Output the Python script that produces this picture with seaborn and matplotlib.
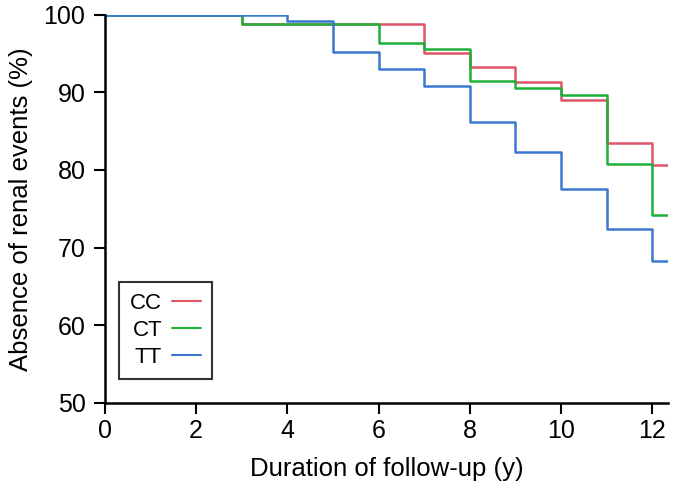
import pandas as pd
import numpy as np
import matplotlib
matplotlib.use("Agg")
import matplotlib.pyplot as plt
import seaborn as sns

# step times (years) and survival (%) per genotype
times = [0, 3, 4, 5, 6, 7, 8, 9, 10, 11, 12, 12.35]
cc_vals = [100, 98.8, 98.8, 98.8, 98.8, 95.1, 93.3, 91.3, 89.0, 83.5, 80.6, 80.6]
ct_vals = [100, 98.8, 98.8, 98.8, 96.4, 95.6, 91.5, 90.6, 89.6, 80.8, 74.2, 74.2]
tt_vals = [100, 100, 99.2, 95.2, 93.0, 90.8, 86.2, 82.3, 77.6, 72.4, 68.3, 68.3]
groups = ["CC", "CT", "TT"]
colors = ["#e05468", "#1fb03a", "#3a78d0"]

data = pd.DataFrame({
    "time": times * 3,
    "surv": cc_vals + ct_vals + tt_vals,
    "group": [g for g in groups for _ in times],
})

sns.set_style("ticks")
plt.rcParams["font.family"] = ["Liberation Sans", "DejaVu Sans"]
plt.rcParams["text.color"] = "black"
plt.rcParams["axes.labelcolor"] = "black"
plt.rcParams["xtick.color"] = "black"
plt.rcParams["ytick.color"] = "black"
plt.rcParams["axes.edgecolor"] = "black"

fig = plt.figure(figsize=(6.77, 4.93), dpi=100)
ax = fig.add_axes([0.155, 0.183, 0.832, 0.787])

sns.lineplot(data=data, x="time", y="surv", hue="group", palette=colors,
             drawstyle="steps-post", linewidth=1.8, ax=ax, sort=False)

ax.set_xlim(0, 12.35)
ax.set_ylim(50, 100)
ax.set_xticks(range(0, 13, 2))
ax.set_yticks(range(50, 101, 10))
ax.tick_params(axis="both", labelsize=18, length=8, width=1.5, direction="out")
ax.tick_params(axis="y", pad=6)
ax.tick_params(axis="x", pad=4)
for side in ["top", "right"]:
    ax.spines[side].set_visible(False)
for side in ["left", "bottom"]:
    ax.spines[side].set_linewidth(1.8)
ax.set_xlabel("Duration of follow-up (y)", fontsize=18.5, labelpad=10)
ax.set_ylabel("Absence of renal events (%)", fontsize=18.5, labelpad=8)

leg = ax.legend(loc="lower left", bbox_to_anchor=(0.025, 0.062), fontsize=16,
                markerfirst=False, frameon=True, fancybox=False,
                handlelength=1.3, borderpad=0.5, labelspacing=0.27,
                borderaxespad=0, handletextpad=0.45)
leg.get_frame().set_edgecolor("black")
leg.get_frame().set_linewidth(1.5)
for line in leg.get_lines():
    line.set_linewidth(1.5)

fig.savefig("out.png", dpi=100)
